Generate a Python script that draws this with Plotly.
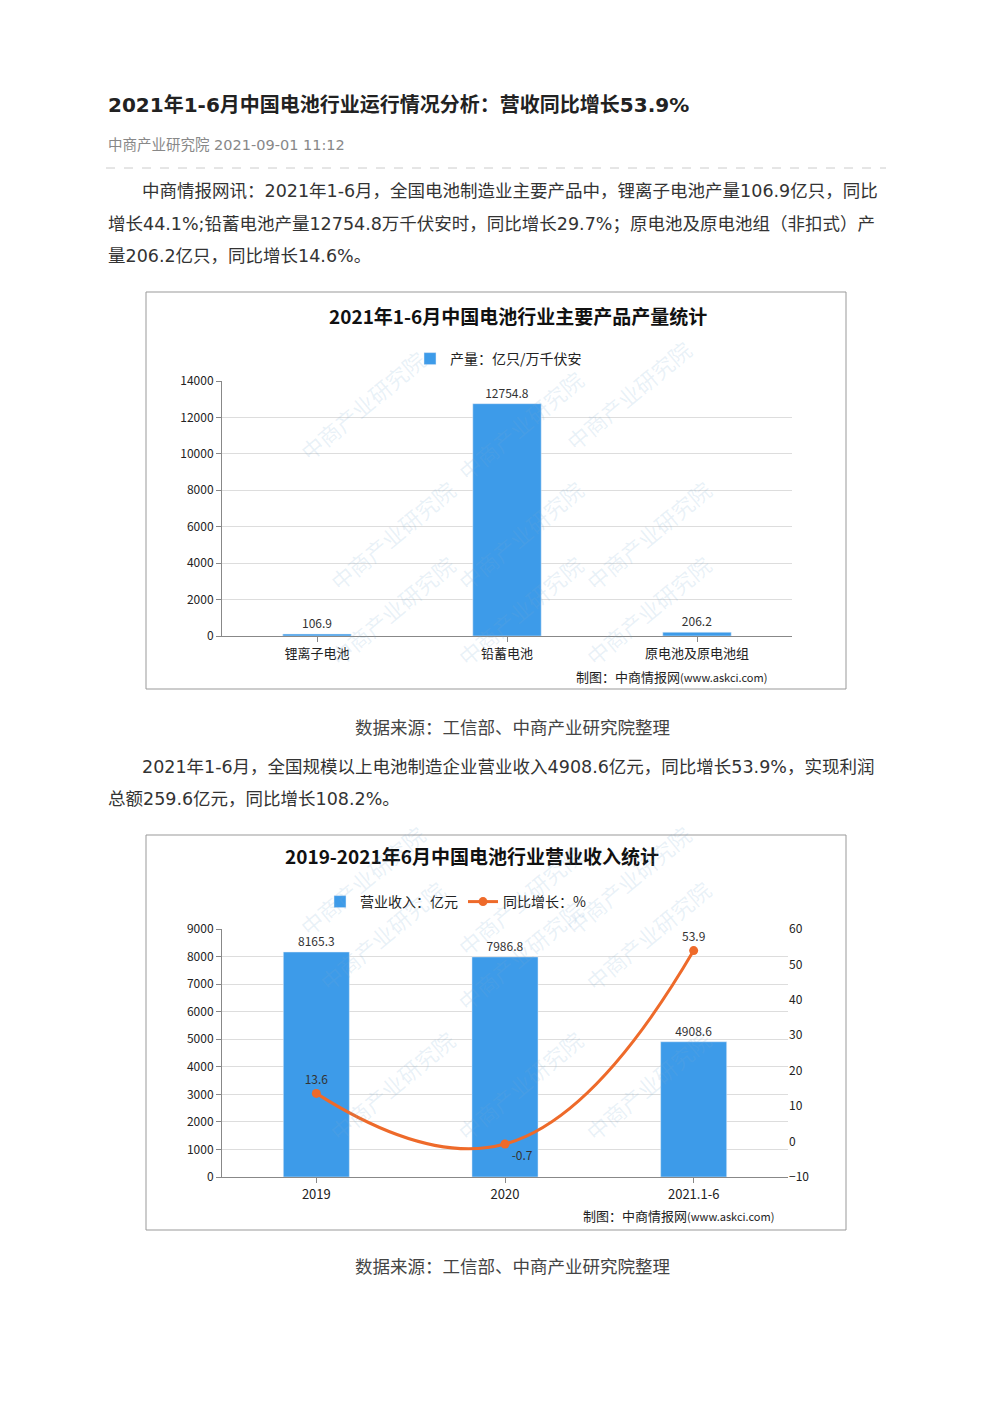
import plotly.graph_objects as go

H, W = 1403, 992
OFF = 8
def py(p): return 1 - (p - OFF) / H
def px(p): return (p - OFF) / W

cats1 = ["锂离子电池", "铅蓄电池", "原电池及原电池组"]
vals1 = [106.9, 12754.8, 206.2]
cats2 = ["2019", "2020", "2021.1-6"]
rev2 = [8165.3, 7986.8, 4908.6]
growth2 = [13.6, -0.7, 53.9]

blue = "#3d9be9"
orange = "#ee6a2a"
FONT = "Noto Sans CJK SC"
ART = "DejaVu Sans, Noto Sans CJK SC"

fig = go.Figure()
fig.add_trace(go.Bar(x=cats1, y=vals1, marker_color=blue, width=0.36, name="产量：亿只/万千伏安",
                     text=[f"{v:.1f}" for v in vals1], textposition="outside",
                     textfont=dict(size=12, color="#333"), cliponaxis=False, legend="legend"))
fig.add_trace(go.Bar(x=cats2, y=rev2, marker_color=blue, width=0.35, name="营业收入：亿元",
                     text=[f"{v:.1f}" for v in rev2], textposition="outside",
                     textfont=dict(size=12, color="#333"), cliponaxis=False,
                     xaxis="x2", yaxis="y2", legend="legend2"))
fig.add_trace(go.Scatter(x=cats2, y=growth2, mode="lines+markers+text", name="同比增长：%",
                         line=dict(color=orange, width=3, shape="spline", smoothing=1.3),
                         marker=dict(size=9, color=orange),
                         text=[str(v) for v in growth2], textposition=["top center", "bottom right", "top center"],
                         textfont=dict(size=12, color="#333"),
                         xaxis="x2", yaxis="y3", legend="legend2", cliponaxis=False))

ax = dict(showline=True, linecolor="#888", ticks="outside", tickcolor="#888",
          tickfont=dict(size=13, color="#222"), showgrid=False)
gy = dict(showgrid=True, gridcolor="#ddd", tickfont=dict(size=12, color="#222"), zeroline=False,
          ticks="outside", tickcolor="#888", showline=True, linecolor="#888", tickformat="d")

fig.update_layout(
    width=W, height=H, margin=dict(l=0, r=0, t=0, b=0, autoexpand=False),
    paper_bgcolor="white", plot_bgcolor="white", font=dict(family=FONT),
    xaxis=dict(domain=[px(222), px(792)], anchor="y", **ax),
    yaxis=dict(domain=[py(636), py(381)], range=[0, 14000], dtick=2000, anchor="x", **gy),
    xaxis2=dict(domain=[px(222), px(788)], anchor="y2", **ax),
    yaxis2=dict(domain=[py(1177), py(929)], range=[0, 9000], dtick=1000, anchor="x2", **gy),
    yaxis3=dict(overlaying="y2", side="right", range=[-10, 60], dtick=10, anchor="x2",
                showgrid=False, zeroline=False, tickfont=dict(size=12, color="#222")),
    legend=dict(x=px(410), y=py(343), xanchor="left", yanchor="top", orientation="h",
                font=dict(size=14, color="#222"), bgcolor="rgba(0,0,0,0)"),
    legend2=dict(x=px(320), y=py(886), xanchor="left", yanchor="top", orientation="h",
                 font=dict(size=14, color="#222"), bgcolor="rgba(0,0,0,0)"),
    showlegend=True,
)

ann = []
def t(x, y, s, size=16, color="#333", xa="left", bold=False, fam=ART):
    ann.append(dict(x=px(x), y=py(y), xref="paper", yref="paper", text=f"<b>{s}</b>" if bold else s,
                    showarrow=False, xanchor=xa, yanchor="middle", font=dict(size=size, color=color, family=fam)))

TS = 17.5
t(106, 105, "2021年1-6月中国电池行业运行情况分析：营收同比增长53.9%", 20, "#222", bold=True)
t(106, 145, "中商产业研究院 2021-09-01 11:12", 14.5, "#888")
t(140, 191, "中商情报网讯：2021年1-6月，全国电池制造业主要产品中，锂离子电池产量106.9亿只，同比", TS)
t(106, 224, "增长44.1%;铅蓄电池产量12754.8万千伏安时，同比增长29.7%；原电池及原电池组（非扣式）产", TS)
t(106, 256, "量206.2亿只，同比增长14.6%。", TS)
t(518, 315, "<b>2021年1-6月中国电池行业主要产品产量统计</b>", 19, "#111", xa="center", fam=FONT)
t(574, 676, "制图：中商情报网<span style='font-size:11px'>(www.askci.com)</span>", 13, "#222", fam=FONT)
t(512, 728, "数据来源：工信部、中商产业研究院整理", TS, "#444", xa="center")
t(140, 767, "2021年1-6月，全国规模以上电池制造企业营业收入4908.6亿元，同比增长53.9%，实现利润", TS)
t(106, 799, "总额259.6亿元，同比增长108.2%。", TS)
t(472, 855, "<b>2019-2021年6月中国电池行业营业收入统计</b>", 19, "#111", xa="center", fam=FONT)
t(581, 1215, "制图：中商情报网<span style='font-size:11px'>(www.askci.com)</span>", 13, "#222", fam=FONT)
t(512, 1267, "数据来源：工信部、中商产业研究院整理", TS, "#444", xa="center")

for (wx, wy) in [(290, 340), (320, 470), (520, 360), (520, 470), (700, 330), (720, 470), (320, 610), (520, 610), (720, 610),
                 (290, 880), (310, 1000), (520, 900), (520, 1020), (700, 880), (720, 1000), (320, 1150), (520, 1150), (720, 1150)]:
    ann.append(dict(x=px(wx), y=py(wy), xref="paper", yref="paper", text="中商产业研究院", showarrow=False,
                    textangle=-40, font=dict(size=22, color="rgba(120,170,210,0.16)")))
fig.update_layout(annotations=ann)

fig.update_layout(shapes=[
    dict(type="line", xref="paper", yref="paper", x0=px(106), x1=px(886), y0=py(168), y1=py(168),
         line=dict(color="#ccc", width=1, dash="dash")),
    dict(type="rect", xref="paper", yref="paper", x0=px(146), x1=px(846), y0=py(292), y1=py(689),
         line=dict(color="#999", width=1)),
    dict(type="rect", xref="paper", yref="paper", x0=px(146), x1=px(846), y0=py(835), y1=py(1230),
         line=dict(color="#999", width=1)),
])

fig.write_html("out.html")
